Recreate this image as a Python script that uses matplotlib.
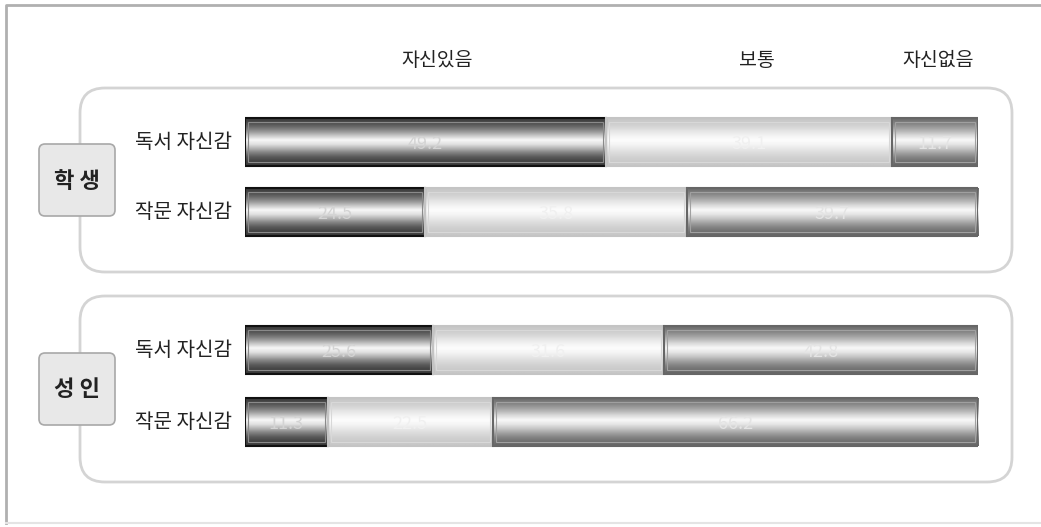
import numpy as np
import matplotlib
matplotlib.use("Agg")
import matplotlib.pyplot as plt
from matplotlib.patches import FancyBboxPatch, Rectangle

plt.rcParams['font.family'] = ['Noto Sans CJK KR', 'DejaVu Sans']

# data
groups = ["학 생", "성 인"]
rows = ["독서 자신감", "작문 자신감", "독서 자신감", "작문 자신감"]
categories = ["자신있음", "보통", "자신없음"]
confident = [49.2, 24.5, 25.6, 11.3]
normal = [39.1, 35.8, 31.6, 22.5]
not_confident = [11.7, 39.7, 42.8, 66.2]

W, H = 1041, 527
fig = plt.figure(figsize=(W / 100, H / 100), dpi=100)
fig.patch.set_facecolor("white")

# background axes in pixel units
ax = fig.add_axes([0, 0, 1, 1])
ax.set_xlim(0, W)
ax.set_ylim(H, 0)
ax.axis("off")

# outer frame: strong left/top, faint bottom
ax.plot([6, 6, W], [523, 5, 5], color="#b0b0b0", lw=2)
ax.plot([6, W], [523, 523], color="#e4e4e4", lw=1.5)

# group boxes
for top, bot, g in [(88, 272, groups[0]), (296, 482, groups[1])]:
    ax.add_patch(FancyBboxPatch((80 + 25, top + 25), 932 - 50, bot - top - 50,
                                boxstyle="round,pad=25", fill=False,
                                edgecolor="#d4d4d4", lw=2))
    mid = (top + bot) / 2
    ax.add_patch(FancyBboxPatch((39 + 6, mid - 36 + 6), 76 - 12, 72 - 12,
                                boxstyle="round,pad=6", facecolor="#e8e8e8",
                                edgecolor="#a8a8a8", lw=1.2))
    ax.text(77, mid + 1, g, ha="center", va="center", fontsize=16,
            fontweight="bold", color="#222222")

# header labels
for x, c in zip([437, 757, 938], categories):
    ax.text(x, 60, c, ha="center", va="center", fontsize=14, color="#222222")

# bars axes
y_top, y_bot = 100, 460
bx = fig.add_axes([245 / W, (H - y_bot) / H, 733 / W, (y_bot - y_top) / H])
bx.axis("off")
row_y = [142, 212, 350, 422]
bar_h = 48

for y, lab in zip(row_y, rows):
    ax.text(232, y + 1, lab, ha="right", va="center", fontsize=14.5, color="#222222")

profiles = [
    [0.22, 0.30, 0.42, 0.58, 0.78, 0.97, 0.88, 0.70, 0.50, 0.35, 0.26, 0.22],
    [0.78, 0.80, 0.84, 0.90, 0.95, 0.99, 0.96, 0.91, 0.86, 0.82, 0.79, 0.78],
    [0.42, 0.50, 0.60, 0.72, 0.86, 0.97, 0.90, 0.78, 0.64, 0.52, 0.44, 0.40],
]
edges = ["#111111", "#c4c4c4", "#666666"]
inner = ["#8a8a8a", "#d8d8d8", "#a0a0a0"]
txt_cols = ["#d4d4d4", "#f0f0f0", "#e4e4e4"]

series = [confident, normal, not_confident]
left = np.zeros(len(rows))
for k, vals in enumerate(series):
    bars = bx.barh(row_y, vals, left=left, height=bar_h, color="none",
                   edgecolor=edges[k], lw=1.5, zorder=3)
    prof = np.interp(np.linspace(0, len(profiles[k]) - 1, 60),
                     np.arange(len(profiles[k])), profiles[k])
    grad = np.tile(prof[:, None], (1, 2))
    for bar, v in zip(bars, vals):
        x0 = bar.get_x()
        x1 = x0 + bar.get_width()
        yc = bar.get_y() + bar.get_height() / 2
        im = bx.imshow(grad, cmap="gray", vmin=0, vmax=1, aspect="auto",
                       extent=(x0, x1, yc + bar_h / 2, yc - bar_h / 2),
                       origin="upper", zorder=2, interpolation="bilinear")
        im.set_clip_path(bar)
        # thin inner highlight line
        bx.add_patch(Rectangle((x0 + 0.4, yc - bar_h / 2 + 4), x1 - x0 - 0.8,
                               bar_h - 8, fill=False, edgecolor=inner[k],
                               lw=0.8, zorder=3))
        bx.text((x0 + x1) / 2, yc + 2, f"{v:.1f}", ha="center", va="center",
                fontsize=13, color=txt_cols[k], zorder=4)
    left = left + np.array(vals)

bx.set_xlim(0, 100)
bx.set_ylim(y_bot, y_top)

fig.savefig("out.png", dpi=100, facecolor="white")
